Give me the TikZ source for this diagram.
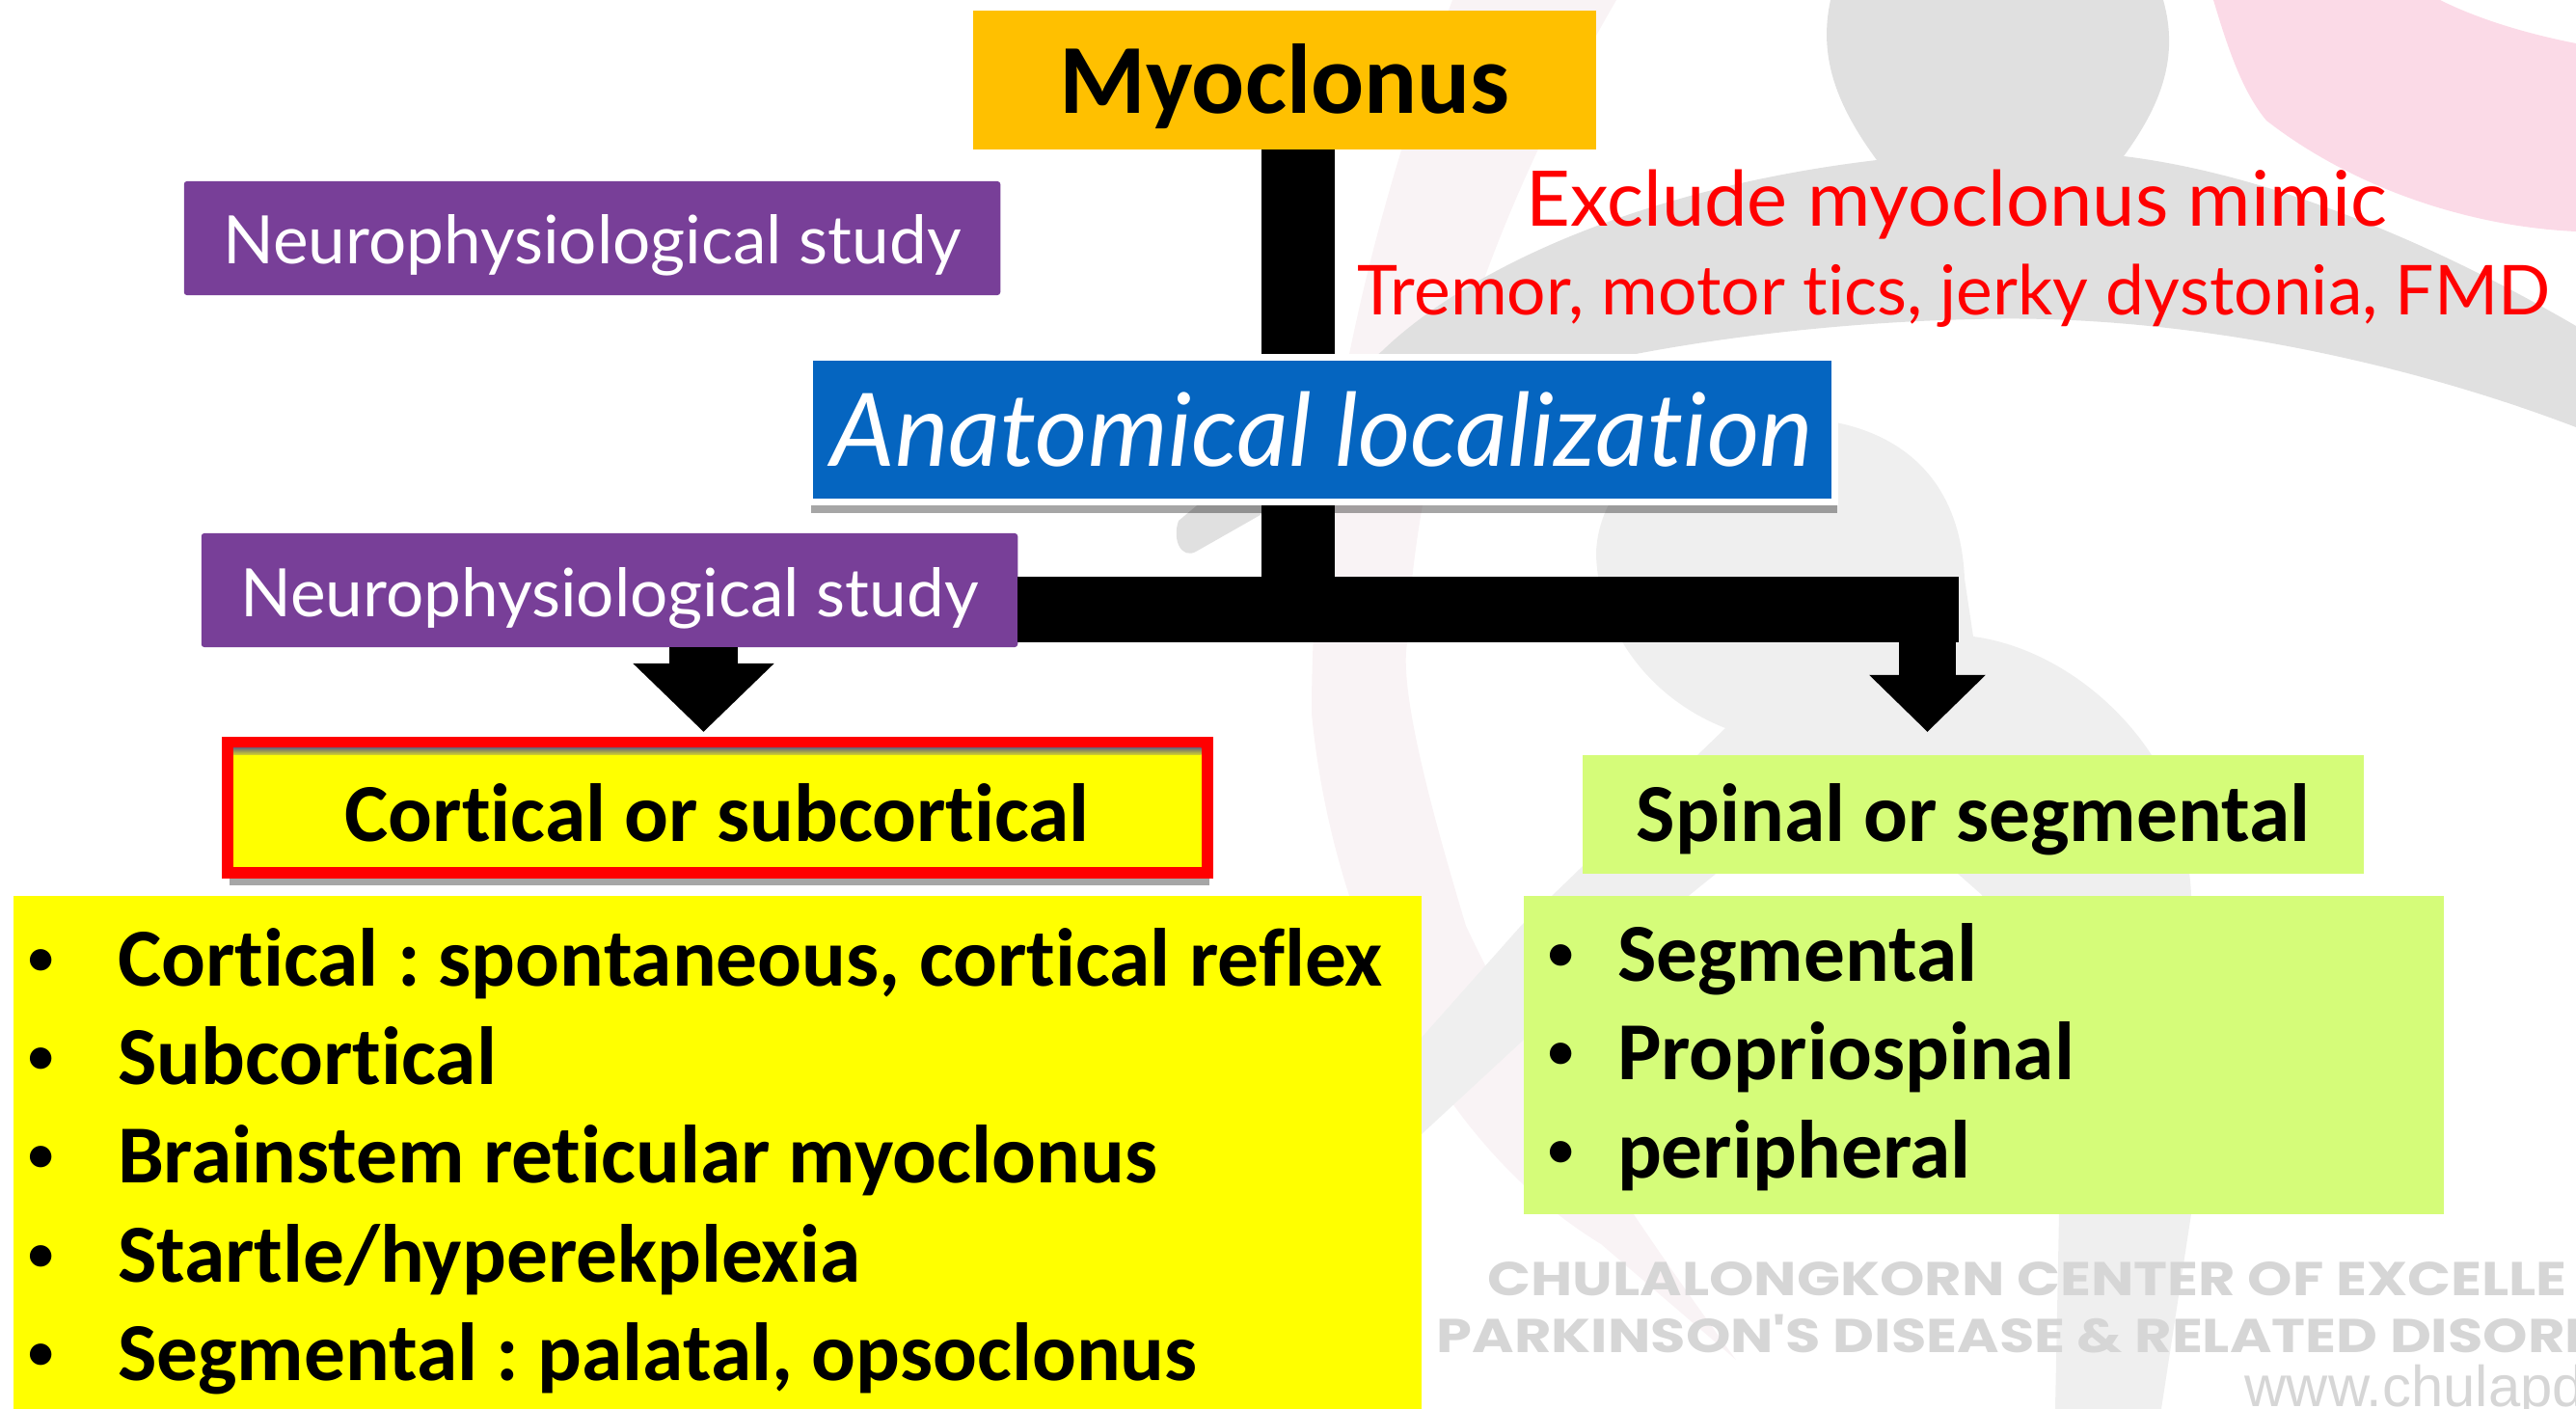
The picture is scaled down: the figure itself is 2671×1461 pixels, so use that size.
\documentclass[tikz,border=0pt]{standalone}
\usepackage{fontspec}
\setmainfont{Carlito}[Ligatures=NoCommon]
\newfontfamily\gillfont{Lato}[Ligatures=NoCommon]
\newfontfamily\markfont{Poppins}[FakeStretch=1.2]
\newfontfamily\urlfont{Liberation Sans}
\usepackage{tikz}
\usetikzlibrary{arrows.meta,shadows}
\usepackage{xcolor}
\definecolor{mainorange}{RGB}{255,192,0}
\definecolor{mainpurple}{RGB}{120,63,152}
\definecolor{mainblue}{RGB}{5,101,192}
\definecolor{mainyellow}{RGB}{255,255,0}
\definecolor{mainlime}{RGB}{213,252,121}
\definecolor{softpink}{RGB}{249,243,245}
\definecolor{rosepink}{RGB}{251,218,231}
\definecolor{markgray}{RGB}{224,224,224}
\definecolor{lightgray}{RGB}{239,239,239}
\definecolor{marktext}{RGB}{214,214,214}
\frenchspacing
\tikzset{
  boxbase/.style={inner sep=0pt,outer sep=0pt,align=center},
  titlebox/.style={boxbase,fill=mainorange,font=\fontsize{29.2}{34}\selectfont\bfseries},
  studybox/.style={boxbase,fill=mainpurple,text=white,rounded corners=0.03cm,
    font=\gillfont\fontsize{19.7}{23}\selectfont},
  localbox/.style={boxbase,fill=mainblue,draw=white,line width=0.07cm,outer sep=0.035cm,text=white,
    font=\gillfont\itshape\fontsize{29.9}{35}\selectfont,
    drop shadow={shadow xshift=0.02cm,shadow yshift=-0.11cm,opacity=0.35,fill=black}},
  corticalbox/.style={boxbase,fill=mainyellow,draw=red,line width=0.12cm,outer sep=0.06cm,
    font=\fontsize{24.3}{29}\selectfont\bfseries,
    drop shadow={shadow xshift=0.02cm,shadow yshift=-0.13cm,opacity=0.35,fill=black}},
  spinalbox/.style={boxbase,fill=mainlime,font=\fontsize{24.3}{29}\selectfont\bfseries},
  listbox/.style={anchor=north west,inner xsep=0.1cm,inner ysep=0pt,outer sep=0pt,align=flush left,
    font=\fontsize{24.3}{29.1}\selectfont\bfseries},
  mimichead/.style={anchor=base,text=red,inner sep=0pt,font=\gillfont\fontsize{22.6}{27}\selectfont},
  mimicnote/.style={anchor=base,text=red,inner sep=0pt,font=\gillfont\fontsize{20.3}{24}\selectfont},
  markline/.style={anchor=base west,inner sep=0pt,text=marktext,font=\markfont\bfseries\fontsize{14}{17}\selectfont},
  urlline/.style={anchor=base west,inner sep=0pt,text=marktext,font=\urlfont\fontsize{17}{20}\selectfont},
  trunkline/.style={line width=0.76cm,draw=black},
  barline/.style={line width=0.68cm,draw=black},
  droparrow/.style={line width=0.71cm,draw=black,-{Triangle[length=0.71cm,width=1.42cm]},shorten >=0.05cm},
  dropsmall/.style={line width=0.59cm,draw=black,-{Triangle[length=0.59cm,width=1.17cm]},shorten >=0.24cm}
}
% bullet at a given offset, then the row text after a fixed indent
\newcommand{\bulletrow}[3]{\makebox[#1][l]{\hspace{#2}\raisebox{0.12cm}{\fontsize{15}{15}\selectfont\textbullet}}#3}

\begin{document}
\begin{tikzpicture}[x=0.01cm,y=-0.01cm]
  \useasboundingbox (0,0) rectangle (2671,1461);

  % backdrop figures
  \begin{scope}
    \clip (0,0) rectangle (2671,1461);
    \fill[rosepink] (2295,0) .. controls (2310,50) and (2325,95) .. (2350,125)
      .. controls (2440,195) and (2560,235) .. (2671,240) -- (2671,45)
      .. controls (2620,35) and (2570,20) .. (2530,0) -- cycle;
    \fill[softpink] (1506,0) .. controls (1420,230) and (1360,480) .. (1360,740)
      .. controls (1380,950) and (1480,1180) .. (1660,1290) -- (1800,1410)
      .. controls (1720,1300) and (1600,1130) .. (1520,960)
      .. controls (1490,860) and (1450,720) .. (1459,667)
      .. controls (1470,430) and (1560,200) .. (1676,0) -- cycle;
    \fill[markgray] (1946,166) .. controls (1905,110) and (1885,60) .. (1898,0) -- (2243,0)
      .. controls (2260,60) and (2240,110) .. (2202,162)
      .. controls (2350,180) and (2520,250) .. (2671,338) -- (2671,443)
      .. controls (2480,370) and (2250,325) .. (2048,331)
      .. controls (1850,335) and (1600,370) .. (1450,440) -- (1305,535) -- (1240,572)
      .. controls (1225,580) and (1215,560) .. (1222,540) -- (1433,364)
      .. controls (1520,280) and (1700,195) .. (1946,166) -- cycle;
    \fill[lightgray] (1789,755) .. controls (1700,720) and (1655,640) .. (1655,572)
      .. controls (1660,480) and (1760,433) .. (1850,433)
      .. controls (1950,433) and (2032,480) .. (2037,600) -- (2046,660)
      .. controls (2120,670) and (2190,720) .. (2231,783)
      .. controls (2255,840) and (2270,880) .. (2272,928)
      -- (2272,1259) -- (2241,1461) -- (2131,1461) -- (2135,1259) -- (2055,928) -- (1910,800)
      -- (1752,928) -- (1581,1077) -- (1473,1177) -- (1440,1200) -- (1440,1110) -- (1473,1077)
      -- (1577,960) -- cycle;
  \end{scope}

  \node[markline] (markone) at (1542,1343) {CHULALONGKORN CENTER OF EXCELLE};
  \node[markline] (marktwo) at (1489,1402) {PARKINSON'S DISEASE \& RELATED DISORD};
  \node[urlline] (markurl) at (2327,1458) {www.chulapd};

  \coordinate (trunk) at (1346,632);
  \coordinate (barend) at (2031,632);
  \coordinate (leftdrop) at (729.5,671);
  \coordinate (rightdrop) at (1998.5,666);

  \node[titlebox,minimum width=6.46cm,text height=1.06cm,text depth=0.38cm] (myoclonus) at (1332,83) {Myoclonus};
  \node[studybox,minimum width=8.46cm,text height=0.85cm,text depth=0.33cm] (studyupper) at (614,247) {Neurophysiological study};
  \node[studybox,minimum width=8.46cm,text height=0.86cm,text depth=0.32cm] (studylower) at (632,612) {Neurophysiological study};
  \node[localbox,minimum width=10.63cm,text height=1.125cm,text depth=0.375cm] (anatomical) at (1371,445.5) {Anatomical localization};
  \node[corticalbox,minimum width=10.15cm,text height=1.02cm,text depth=0.33cm] (cortical) at (743.75,837.5) {Cortical or subcortical};
  \node[spinalbox,minimum width=8.10cm,text height=0.89cm,text depth=0.34cm] (spinal) at (2046,844.5) {Spinal or segmental};
  \shade[top color=black!55,bottom color=mainyellow!70!gray] ([xshift=0.12cm,yshift=-0.12cm]cortical.north west) rectangle ([xshift=-0.12cm,yshift=-0.19cm]cortical.north east);

  \node[mimichead] (mimic) at (2029,235) {Exclude myoclonus mimic};
  \node[mimicnote] (mimiclist) at (2026,327) {Tremor, motor tics, jerky dystonia, FMD};

  \node[listbox,fill=mainyellow,text width=14.39cm] (corticallist) at (14,929) {%
    \rule{0pt}{0.93cm}\bulletrow{0.98cm}{0.05cm}{Cortical : spontaneous, cortical reflex}\\
    \bulletrow{0.98cm}{0.05cm}{Subcortical}\\
    \bulletrow{0.98cm}{0.05cm}{Brainstem reticular myoclonus}\\
    \bulletrow{0.98cm}{0.05cm}{Startle/hyperekplexia}\\
    \bulletrow{0.98cm}{0.05cm}{Segmental : palatal, opsoclonus}\rule[-0.30cm]{0pt}{0pt}};
  \node[listbox,fill=mainlime,text width=9.33cm] (spinallist) at (1580,929) {%
    \rule{0pt}{0.88cm}\bulletrow{0.87cm}{0.15cm}{Segmental}\\
    \bulletrow{0.87cm}{0.15cm}{Propriospinal}\\
    \bulletrow{0.87cm}{0.15cm}{peripheral}\rule[-0.37cm]{0pt}{0pt}};

  \draw[trunkline] (myoclonus.south -| trunk) -- (anatomical.north -| trunk);
  \draw[trunkline] (anatomical.south -| trunk) -- (trunk);
  \draw[barline] (studylower.east |- barend) -- (barend);
  \draw[droparrow] (leftdrop) -- (leftdrop |- cortical.north);
  \draw[dropsmall] (rightdrop) -- (rightdrop |- spinal.north);
\end{tikzpicture}
\end{document}
